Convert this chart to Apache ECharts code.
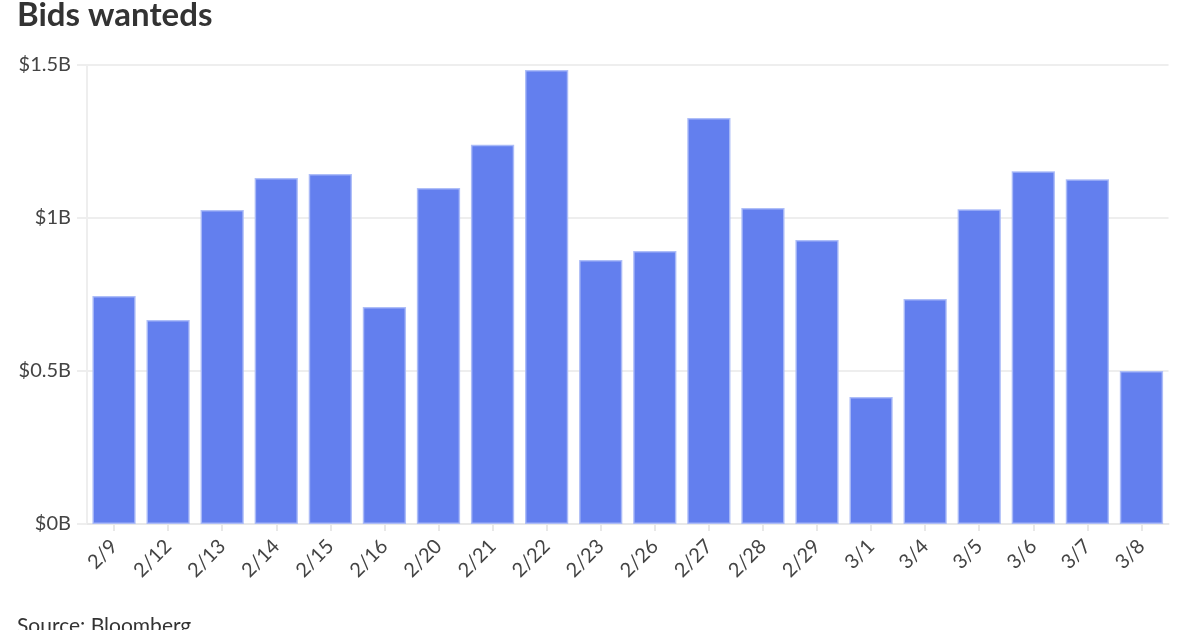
<!DOCTYPE html>
<html><head><meta charset="utf-8">
<script src="https://cdn.jsdelivr.net/npm/echarts@6/dist/echarts.min.js"></script>
<style>html,body{margin:0;padding:0;background:#fff}#c{width:1200px;height:630px}</style>
</head><body><div id="c"></div>
<script>
const categories = ['2/9','2/12','2/13','2/14','2/15','2/16','2/20','2/21','2/22','2/23','2/26','2/27','2/28','2/29','3/1','3/4','3/5','3/6','3/7','3/8'];
const bidsWanted = [0.745,0.667,1.026,1.131,1.144,0.709,1.098,1.239,1.484,0.863,0.892,1.327,1.033,0.928,0.415,0.735,1.029,1.153,1.127,0.5];
const yTicks = [0,0.5,1,1.5];
const yTickLabels = ['$0B','$0.5B','$1B','$1.5B'];

const chart = echarts.init(document.getElementById('c'), null, {renderer:'canvas'});
const F = 'Lato, "Noto Sans", sans-serif';
chart.setOption({
  animation:false,
  title:[
    {text:'Bids wanteds', left:12, top:-6, textStyle:{fontFamily:F, fontSize:33, fontWeight:'bold', color:'#333'}},
    {text:'Source: Bloomberg', left:12, top:611, textStyle:{fontFamily:F, fontSize:21, fontWeight:'normal', color:'#333'}}
  ],
  grid:{left:87, right:31.5, top:65, bottom:106, containLabel:false},
  xAxis:{
    type:'category', data:categories,
    axisLine:{show:true, lineStyle:{color:'#e8e8e8', width:2}},
    axisTick:{show:true, alignWithLabel:true, length:7, lineStyle:{color:'#e8e8e8', width:2}},
    axisLabel:{rotate:45, fontFamily:F, fontSize:20, color:'#444', margin:19}
  },
  yAxis:{
    type:'value', min:0, max:1.5, interval:0.5,
    axisLine:{show:true, lineStyle:{color:'#eeeeee', width:2}},
    axisTick:{show:true, length:10, lineStyle:{color:'#eeeeee', width:2}},
    splitLine:{show:true, lineStyle:{color:'#eeeeee', width:2}},
    axisLabel:{fontFamily:F, fontSize:20, color:'#444', margin:16,
      formatter:function(v){const i=yTicks.indexOf(v);return i>=0?yTickLabels[i]:'';}}
  },
  series:[{
    type:'bar', data:bidsWanted, barCategoryGap:'20%',
    itemStyle:{color:'#637fee', borderColor:'rgba(170,186,247,0.9)', borderWidth:1.5}
  }]
});
</script></body></html>
